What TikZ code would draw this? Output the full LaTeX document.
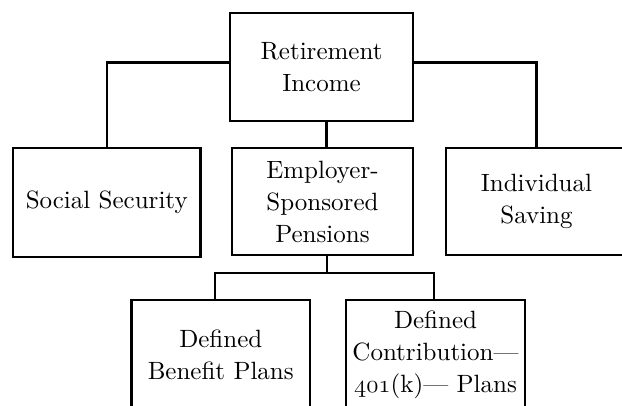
\documentclass[tikz,border=0pt]{standalone}
\usepackage{fontspec}
\setmainfont{lmroman10-regular}[Extension=.otf]
\newcommand{\osfnum}[1]{{\usefont{OML}{cmm}{m}{it}#1}}
\begin{document}
\begin{tikzpicture}[x=1pt,y=-1pt,
  box/.style={draw, line width=2.4pt, rectangle, inner sep=0pt, align=center,
    font=\fontsize{25}{32}\selectfont},
  conn/.style={line width=2.4pt, line join=miter}]
\useasboundingbox (0,0) rectangle (622,405);
\clip (0,0) rectangle (622,405);
\node[box, minimum width=183pt, minimum height=108pt] (top) at (321.5,67) {Retirement\\Income};
\node[box, minimum width=187.5pt, minimum height=109pt] (soc) at (106.75,202.5) {Social Security};
\node[box, minimum width=181pt, minimum height=107pt] (emp) at (322.5,201.5) {Employer-\\Sponsored\\Pensions};
\node[box, minimum width=181pt, minimum height=107pt] (ind) at (536.5,201.5) {Individual\\Saving};
\node[box, minimum width=178.5pt, minimum height=110pt] (db) at (220.75,355) {Defined\\Benefit Plans};
\node[box, minimum width=179pt, minimum height=110pt] (dc) at (435.5,355) {Defined\\Contribution---\\\osfnum{401}(k)--- Plans};
\coordinate (j) at (327,273);
\draw[conn] ([yshift=4.5pt]top.west) -| (soc.north);
\draw[conn] ([yshift=4.5pt]top.east) -| (ind.north);
\draw[conn] ([xshift=5pt]top.south) -- ([xshift=5pt]top.south |- emp.north);
\draw[conn] ([xshift=4.5pt]emp.south) -- (j);
\draw[conn] ([xshift=-5.75pt]db.north) |- (j) -| ([xshift=-1.5pt]dc.north);
\end{tikzpicture}
\end{document}
